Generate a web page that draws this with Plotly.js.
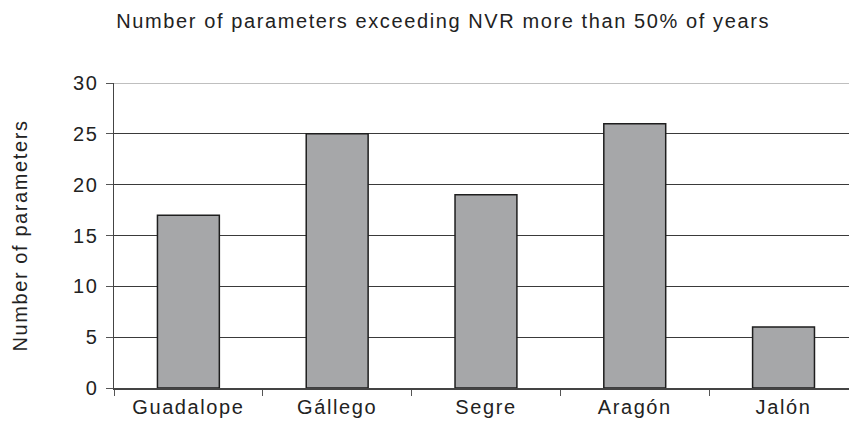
<!DOCTYPE html>
<html>
<head>
<meta charset="utf-8">
<script src="https://cdn.plot.ly/plotly-3.0.1.min.js"></script>
<style>
html,body{margin:0;padding:0;background:#fff;}
#chart{width:849px;height:430px;}
#chart svg text{letter-spacing:1.6px !important;}
</style>
</head>
<body>
<div id="chart"></div>
<script>
const categories = ["Guadalope", "Gállego", "Segre", "Aragón", "Jalón"];
const values = [17, 25, 19, 26, 6];
const yTicks = [0, 5, 10, 15, 20, 25, 30];
const titleText = "Number of parameters exceeding NVR more than 50% of years";
const yTitle = "Number of parameters";

const font = "Liberation Sans, Arial, Helvetica, sans-serif";
const fs = 20;

Plotly.newPlot("chart", [{
  type: "bar",
  x: categories,
  y: values,
  width: 0.416,
  marker: { color: "#a6a7a9", line: { color: "#1e1e1e", width: 1.5 } },
  hoverinfo: "none"
}], {
  width: 849,
  height: 430,
  margin: { l: 113.5, r: 0, t: 83, b: 42 },
  paper_bgcolor: "#fff",
  plot_bgcolor: "#fff",
  showlegend: false,
  font: { family: font, color: "#222", size: fs },
  title: {
    text: titleText,
    font: { family: font, size: 20, color: "#222" },
    xref: "container", yref: "container",
    x: 0.522, y: 0.952, xanchor: "center", yanchor: "middle"
  },
  xaxis: {
    type: "category",
    range: [-0.5, 4.44],
    showgrid: false,
    showline: true, linecolor: "#444", linewidth: 1.5,
    ticks: "outside", tickson: "boundaries", ticklen: 6, tickcolor: "#555", tickwidth: 1,
    tickfont: { family: font, size: fs, color: "#222" },
    fixedrange: true
  },
  yaxis: {
    range: [0, 30],
    tickvals: yTicks,
    showgrid: true, gridcolor: "#3a3a3a", gridwidth: 1,
    zeroline: false,
    showline: true, linecolor: "#444", linewidth: 1.5,
    ticks: "outside", ticklen: 7, tickcolor: "#555",
    ticklabelstandoff: 3,
    tickfont: { family: font, size: fs, color: "#222" },
    title: { text: yTitle, font: { family: font, size: 20, color: "#222" }, standoff: 43 },
    fixedrange: true
  },
  shapes: [{
    type: "line", xref: "paper", yref: "y", x0: 0, x1: 1, y0: 30, y1: 30,
    line: { color: "#aaa", width: 1.5 }, layer: "above"
  }]
}, { staticPlot: true, displayModeBar: false });
</script>
</body>
</html>
